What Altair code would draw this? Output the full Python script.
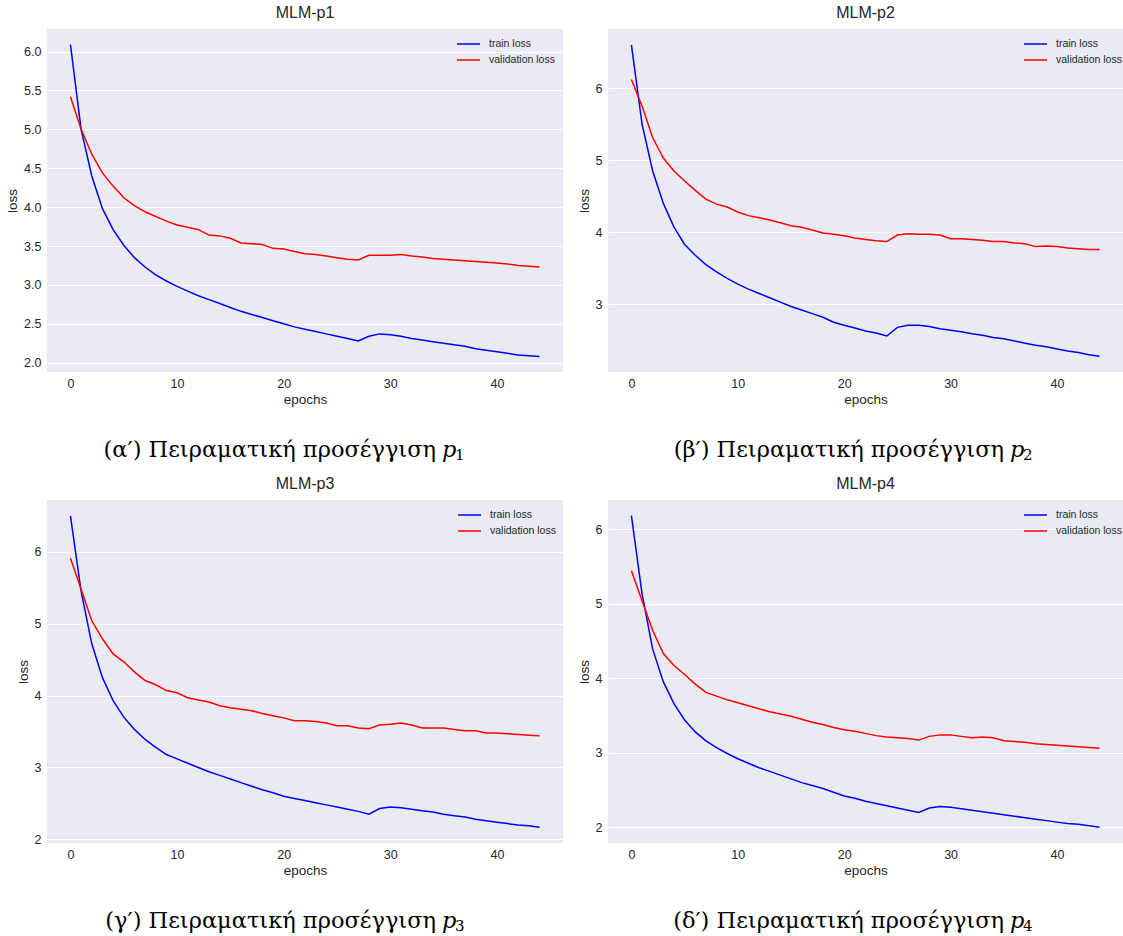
import altair as alt
import pandas as pd

epochs = list(range(45))

p1_train = [6.09, 5.00, 4.40, 3.98, 3.71, 3.51, 3.35, 3.23, 3.13, 3.05,
            2.98, 2.92, 2.86, 2.81, 2.76, 2.71, 2.66, 2.62, 2.58, 2.54,
            2.50, 2.46, 2.43, 2.40, 2.37, 2.34, 2.31, 2.28, 2.34, 2.37,
            2.36, 2.34, 2.31, 2.29, 2.27, 2.25, 2.23, 2.21, 2.18, 2.16,
            2.14, 2.12, 2.10, 2.09, 2.08]
p1_val = [5.42, 5.00, 4.68, 4.44, 4.27, 4.12, 4.02, 3.94, 3.88, 3.82,
          3.77, 3.74, 3.71, 3.64, 3.63, 3.60, 3.54, 3.53, 3.52, 3.47,
          3.46, 3.43, 3.40, 3.39, 3.37, 3.35, 3.33, 3.32, 3.38, 3.38,
          3.38, 3.39, 3.37, 3.36, 3.34, 3.33, 3.32, 3.31, 3.30, 3.29,
          3.28, 3.27, 3.25, 3.24, 3.23]

p2_train = [6.60, 5.50, 4.85, 4.40, 4.07, 3.83, 3.68, 3.55, 3.45, 3.36,
            3.28, 3.21, 3.15, 3.09, 3.03, 2.97, 2.92, 2.87, 2.82, 2.75,
            2.71, 2.67, 2.63, 2.60, 2.56, 2.68, 2.71, 2.71, 2.69, 2.66,
            2.64, 2.62, 2.59, 2.57, 2.54, 2.52, 2.49, 2.46, 2.43, 2.41,
            2.38, 2.35, 2.33, 2.30, 2.28]
p2_val = [6.12, 5.75, 5.31, 5.03, 4.85, 4.71, 4.58, 4.46, 4.39, 4.35,
          4.28, 4.23, 4.20, 4.17, 4.13, 4.09, 4.07, 4.03, 3.99, 3.97,
          3.95, 3.92, 3.90, 3.88, 3.87, 3.96, 3.98, 3.97, 3.97, 3.96,
          3.91, 3.91, 3.90, 3.89, 3.87, 3.87, 3.85, 3.84, 3.80, 3.81,
          3.80, 3.78, 3.77, 3.76, 3.76]

p3_train = [6.50, 5.45, 4.72, 4.25, 3.93, 3.70, 3.53, 3.39, 3.28, 3.18,
            3.12, 3.06, 3.00, 2.94, 2.89, 2.84, 2.79, 2.74, 2.69, 2.65,
            2.60, 2.57, 2.54, 2.51, 2.48, 2.45, 2.42, 2.39, 2.35, 2.43,
            2.45, 2.44, 2.42, 2.40, 2.38, 2.35, 2.33, 2.31, 2.28, 2.26,
            2.24, 2.22, 2.20, 2.19, 2.17]
p3_val = [5.91, 5.48, 5.04, 4.79, 4.58, 4.47, 4.33, 4.21, 4.15, 4.07,
          4.04, 3.97, 3.94, 3.91, 3.86, 3.83, 3.81, 3.79, 3.75, 3.72,
          3.69, 3.65, 3.65, 3.64, 3.62, 3.58, 3.58, 3.55, 3.54, 3.59,
          3.60, 3.62, 3.59, 3.55, 3.55, 3.55, 3.53, 3.51, 3.51, 3.48,
          3.48, 3.47, 3.46, 3.45, 3.44]

p4_train = [6.18, 5.13, 4.39, 3.95, 3.66, 3.44, 3.28, 3.16, 3.07, 2.99,
            2.92, 2.86, 2.80, 2.75, 2.70, 2.65, 2.60, 2.56, 2.52, 2.47,
            2.42, 2.39, 2.35, 2.32, 2.29, 2.26, 2.23, 2.20, 2.26, 2.28,
            2.27, 2.25, 2.23, 2.21, 2.19, 2.17, 2.15, 2.13, 2.11, 2.09,
            2.07, 2.05, 2.04, 2.02, 2.00]
p4_val = [5.44, 5.04, 4.64, 4.33, 4.17, 4.05, 3.92, 3.81, 3.76, 3.71,
          3.67, 3.63, 3.59, 3.55, 3.52, 3.49, 3.45, 3.41, 3.38, 3.34,
          3.31, 3.29, 3.26, 3.23, 3.21, 3.20, 3.19, 3.17, 3.22, 3.24,
          3.24, 3.22, 3.20, 3.21, 3.20, 3.16, 3.15, 3.14, 3.12, 3.11,
          3.10, 3.09, 3.08, 3.07, 3.06]

titles = ["MLM-p1", "MLM-p2", "MLM-p3", "MLM-p4"]
captions = ["(α′) Πειραματική προσέγγιση", "(β′) Πειραματική προσέγγιση",
            "(γ′) Πειραματική προσέγγιση", "(δ′) Πειραματική προσέγγιση"]
subs = ["1", "2", "3", "4"]
series_names = ["train loss", "validation loss"]
series_colors = ["#0000ff", "#ff0000"]

y_domains = [[1.88, 6.29], [2.06, 6.82], [1.95, 6.72], [1.79, 6.39]]
y_ticks = [[2.0, 2.5, 3.0, 3.5, 4.0, 4.5, 5.0, 5.5, 6.0], [3, 4, 5, 6],
           [2, 3, 4, 5, 6], [2, 3, 4, 5, 6]]
y_formats = [".1f", "d", "d", "d"]
x_ticks = [0, 10, 20, 30, 40]

PLOT_H = 343
CAP_FONT = "DejaVu Serif"


def panel(i, train, val, width, cap_end, legend_x):
    df = pd.DataFrame({
        "epoch": epochs + epochs,
        "loss": train + val,
        "series": [series_names[0]] * len(epochs) + [series_names[1]] * len(epochs),
    })
    lines = alt.Chart(df).mark_line(strokeWidth=1.5).encode(
        x=alt.X("epoch:Q",
                scale=alt.Scale(domain=[-2.2, 46.2], nice=False, zero=False),
                axis=alt.Axis(values=x_ticks, title="epochs", grid=False, format="d")),
        y=alt.Y("loss:Q",
                scale=alt.Scale(domain=y_domains[i], nice=False, zero=False),
                axis=alt.Axis(values=y_ticks[i], title="loss", format=y_formats[i])),
        color=alt.Color("series:N",
                        scale=alt.Scale(domain=series_names, range=series_colors),
                        legend=alt.Legend(title=None, orient="none",
                                          legendX=legend_x, legendY=7)),
        detail="series:N",
    )
    cap_df = pd.DataFrame({"t": [captions[i]], "p": ["p"], "s": [subs[i]]})
    base = alt.Chart(cap_df)
    cap_main = base.mark_text(font=CAP_FONT, fontSize=22.5, align="right",
                              baseline="alphabetic", color="black").encode(
        x=alt.value(cap_end), y=alt.value(PLOT_H + 85), text="t:N")
    cap_p = base.mark_text(font=CAP_FONT, fontSize=22.5, fontStyle="italic", align="left",
                           baseline="alphabetic", color="black").encode(
        x=alt.value(cap_end + 6), y=alt.value(PLOT_H + 85), text="p:N")
    cap_s = base.mark_text(font=CAP_FONT, fontSize=15, align="left",
                           baseline="alphabetic", color="black").encode(
        x=alt.value(cap_end + 19), y=alt.value(PLOT_H + 88), text="s:N")
    return alt.layer(lines, cap_main, cap_p, cap_s).properties(
        width=width, height=PLOT_H,
        title=alt.TitleParams(titles[i], fontSize=16, font="Liberation Sans",
                              fontWeight="normal", color="#262626", offset=8),
    )


c1 = panel(0, p1_train, p1_val, 516, 389, 409)
c2 = panel(1, p2_train, p2_val, 515, 396, 415)
c3 = panel(2, p3_train, p3_val, 516, 389, 410)
c4 = panel(3, p4_train, p4_val, 515, 396, 415)

row1 = alt.hconcat(c1, c2, spacing=14).resolve_scale(color="independent")
row2 = alt.hconcat(c3, c4, spacing=14).resolve_scale(color="independent")

chart = alt.vconcat(row1, row2, spacing=13).resolve_scale(
    color="independent"
).properties(
    padding={"left": 5, "top": 5, "right": 0, "bottom": 0},
    background="white",
).configure_view(
    fill="#EAEAF2", stroke=None
).configure_axis(
    labelFont="Liberation Sans", labelFontSize=12.5, labelColor="#262626",
    titleFont="Liberation Sans", titleFontSize=13.5, titleFontWeight="normal",
    titleColor="#262626", domain=False, ticks=False, tickSize=0,
    gridColor="white", gridWidth=1,
).configure_axisX(
    labelPadding=5, titlePadding=3,
).configure_axisY(
    labelPadding=6, titlePadding=4,
).configure_title(
    font="Liberation Sans", fontSize=16, fontWeight="normal", color="#262626",
    offset=8, anchor="middle",
).configure_legend(
    labelFont="Liberation Sans", labelFontSize=10.5, labelColor="#262626",
    symbolType="stroke", symbolSize=529, symbolStrokeWidth=1.5, padding=0,
    rowPadding=0, labelOffset=8, clipHeight=16,
)

chart.save("out.html", embed_options={"renderer": "svg", "actions": False})
